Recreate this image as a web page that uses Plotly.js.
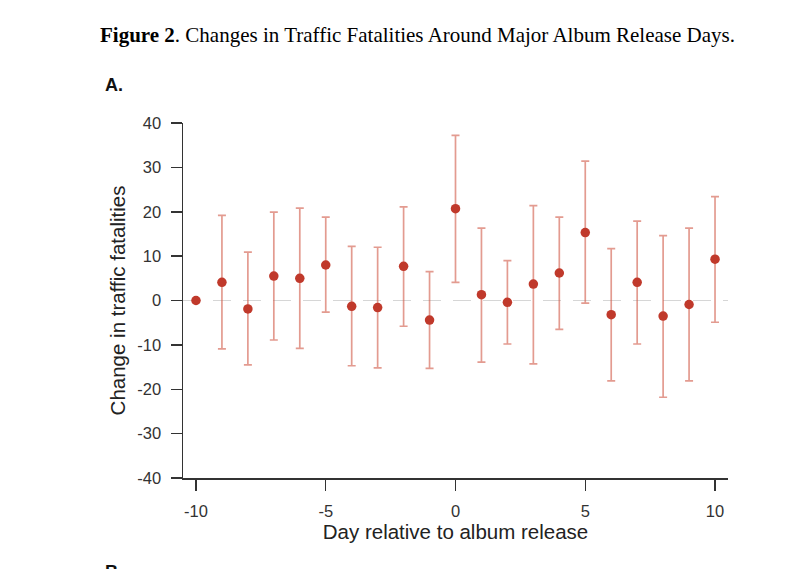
<!DOCTYPE html>
<html>
<head>
<meta charset="utf-8">
<script src="https://cdn.plot.ly/plotly-3.0.1.min.js"></script>
<style>
  html, body { margin: 0; padding: 0; background: #fff; }
</style>
</head>
<body>
<div id="myDiv"></div>
<script>
// days relative to album release
var days = [-10, -9, -8, -7, -6, -5, -4, -3, -2, -1, 0, 1, 2, 3, 4, 5, 6, 7, 8, 9, 10];
// estimated change in traffic fatalities
var change = [0, 4.1, -1.9, 5.5, 5.0, 8.0, -1.3, -1.6, 7.7, -4.4, 20.7, 1.3, -0.4, 3.7, 6.2, 15.3, -3.2, 4.1, -3.5, -0.9, 9.3];
// 95% interval bounds (null = reference day, no bar)
var upper = [null, 19.2, 10.9, 19.9, 20.8, 18.8, 12.2, 12.0, 21.1, 6.5, 37.2, 16.3, 9.0, 21.4, 18.8, 31.4, 11.7, 17.9, 14.6, 16.3, 23.4];
var lower = [null, -10.9, -14.5, -8.9, -10.8, -2.6, -14.7, -15.2, -5.8, -15.3, 4.1, -13.9, -9.8, -14.3, -6.5, -0.6, -18.1, -9.8, -21.8, -18.1, -4.9];

var xTicks = [-10, -5, 0, 5, 10];
var yTicks = [-40, -30, -20, -10, 0, 10, 20, 30, 40];

var plus = [], minus = [];
for (var i = 0; i < days.length; i++) {
    plus.push(upper[i] == null ? 0 : upper[i] - change[i]);
    minus.push(lower[i] == null ? 0 : change[i] - lower[i]);
}

var points = {
    x: days,
    y: change,
    type: 'scatter',
    mode: 'markers',
    marker: { color: '#c0392b', size: 9.5 },
    error_y: {
        type: 'data',
        symmetric: false,
        array: plus,
        arrayminus: minus,
        color: 'rgba(208,88,70,0.6)',
        thickness: 1.7,
        width: 4
    },
    hoverinfo: 'x+y'
};

var sans = 'Liberation Sans, Arial, sans-serif';
var tickFont = { family: sans, size: 16.5, color: '#333' };
var titleFont = { family: sans, size: 20.5, color: '#222' };

var layout = {
    width: 810,
    height: 569,
    margin: { l: 183, r: 82, t: 123, b: 91 },
    paper_bgcolor: '#fff',
    plot_bgcolor: '#fff',
    showlegend: false,
    xaxis: {
        range: [-10.5, 10.5],
        tickvals: xTicks,
        ticktext: xTicks.map(String),
        ticks: 'outside',
        ticklen: 11,
        tickwidth: 1.5,
        tickcolor: '#333',
        showline: true,
        linecolor: '#333',
        linewidth: 1.5,
        showgrid: false,
        zeroline: false,
        tickfont: tickFont,
        ticklabelstandoff: 7,
        title: { text: 'Day relative to album release', font: titleFont, standoff: 4 }
    },
    yaxis: {
        range: [-40, 40],
        tickvals: yTicks,
        ticktext: yTicks.map(String),
        ticks: 'outside',
        ticklen: 11,
        tickwidth: 1.5,
        tickcolor: '#333',
        showline: true,
        linecolor: '#333',
        linewidth: 1.5,
        showgrid: false,
        zeroline: false,
        tickfont: tickFont,
        ticklabelstandoff: 6,
        title: { text: 'Change in traffic fatalities', font: titleFont, standoff: 6 }
    },
    shapes: [{
        type: 'line', xref: 'paper', yref: 'y',
        x0: 0, x1: 1, y0: 0, y1: 0,
        line: { color: '#d6d6d6', width: 1.2, dash: '18px,12px' },
        layer: 'below'
    }],
    annotations: [
        {
            xref: 'paper', yref: 'paper', x: 0.43, y: 1,
            xanchor: 'center', yanchor: 'middle',
            yshift: 88,
            text: '<b>Figure 2</b>. Changes in Traffic Fatalities Around Major Album Release Days.',
            showarrow: false,
            font: { family: 'Liberation Serif, Times New Roman, serif', size: 21, color: '#000' }
        },
        {
            xref: 'paper', yref: 'paper', x: 0, y: 1,
            xanchor: 'left', yanchor: 'middle',
            xshift: -80, yshift: 38,
            text: '<b>A.</b>',
            showarrow: false,
            font: { family: sans, size: 18, color: '#111' }
        },
        {
            xref: 'paper', yref: 'paper', x: 0, y: 0,
            xanchor: 'left', yanchor: 'top',
            xshift: -80, yshift: -82,
            text: '<b>B.</b>',
            showarrow: false,
            font: { family: sans, size: 18, color: '#111' }
        }
    ]
};

Plotly.newPlot('myDiv', [points], layout, { displayModeBar: false, staticPlot: true });
</script>
</body>
</html>
